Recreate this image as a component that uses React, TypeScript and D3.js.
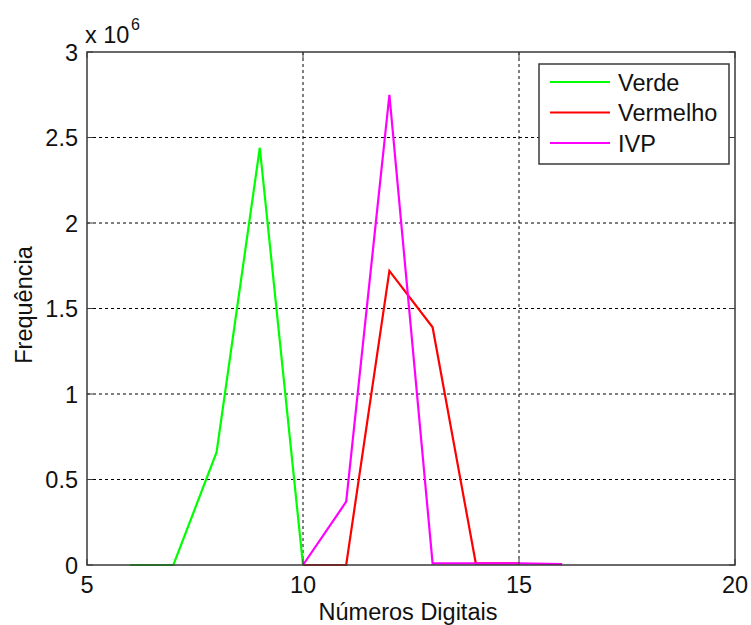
import React from "react";
import * as d3 from "d3";

const xTicks = [5, 10, 15, 20];
const yTicks = [0, 0.5, 1, 1.5, 2, 2.5, 3];
const yTickLabels = ["0", "0.5", "1", "1.5", "2", "2.5", "3"];

const verdeX = [6, 7, 8, 9, 10];
const verdeY = [0, 0, 0.66e6, 2.44e6, 0];
const vermelhoX = [10, 11, 12, 13, 14, 15];
const vermelhoY = [0, 0, 1.72e6, 1.39e6, 0.01e6, 0.01e6];
const ivpX = [10, 11, 12, 13, 14, 15, 16];
const ivpY = [0, 0.37e6, 2.75e6, 0.01e6, 0.01e6, 0.01e6, 0.005e6];

const seriesNames = ["Verde", "Vermelho", "IVP"];
const seriesColors = ["#00ff00", "#ff0000", "#ff00ff"];

export default function App() {
  const W = 751, H = 625;
  const L = 87, R = 735, T = 52, B = 565;
  const x = d3.scaleLinear().domain([5, 20]).range([L, R]);
  const y = d3.scaleLinear().domain([0, 3e6]).range([B, T]);
  const line = d3.line<[number, number]>().x(d => x(d[0])).y(d => y(d[1]));
  const series = [
    verdeX.map((v, i) => [v, verdeY[i]] as [number, number]),
    vermelhoX.map((v, i) => [v, vermelhoY[i]] as [number, number]),
    ivpX.map((v, i) => [v, ivpY[i]] as [number, number]),
  ];
  const font = "'Liberation Sans', Arial, sans-serif";
  const fs = 23.5;
  const tl = 6;
  return (
    <svg width={W} height={H} style={{ position: "absolute", left: 0, top: 0, background: "#fff" }} fontFamily={font}>
      <rect x={0} y={0} width={W} height={H} fill="#fff" />
      {xTicks.slice(1, -1).map(t => (
        <line key={"gx" + t} x1={x(t)} x2={x(t)} y1={T} y2={B} stroke="#000" strokeWidth={1} strokeDasharray="3,3" />
      ))}
      {yTicks.slice(1, -1).map(t => (
        <line key={"gy" + t} x1={L} x2={R} y1={y(t * 1e6)} y2={y(t * 1e6)} stroke="#000" strokeWidth={1} strokeDasharray="3,3" />
      ))}
      {series.map((s, i) => (
        <path key={i} d={line(s) || ""} fill="none" stroke={seriesColors[i]} strokeWidth={2.2} />
      ))}
      <rect x={L} y={T} width={R - L} height={B - T} fill="none" stroke="#3a3a3a" strokeWidth={1.5} />
      {xTicks.map(t => (
        <g key={"tx" + t}>
          <line x1={x(t)} x2={x(t)} y1={B} y2={B - tl} stroke="#3a3a3a" />
          <line x1={x(t)} x2={x(t)} y1={T} y2={T + tl} stroke="#3a3a3a" />
          <text x={x(t)} y={593} fontSize={fs} textAnchor="middle" fill="#111">{t}</text>
        </g>
      ))}
      {yTicks.map((t, i) => (
        <g key={"ty" + t}>
          <line x1={L} x2={L + tl} y1={y(t * 1e6)} y2={y(t * 1e6)} stroke="#3a3a3a" />
          <line x1={R} x2={R - tl} y1={y(t * 1e6)} y2={y(t * 1e6)} stroke="#3a3a3a" />
          <text x={78} y={y(t * 1e6) + 8.5} fontSize={fs} textAnchor="end" fill="#111">{yTickLabels[i]}</text>
        </g>
      ))}
      <text x={85} y={43} fontSize={fs} fill="#111">x 10</text>
      <text x={131} y={30} fontSize={16} fill="#111">6</text>
      <text x={408} y={620} fontSize={fs} textAnchor="middle" fill="#111">Números Digitais</text>
      <text transform="translate(32,305) rotate(-90)" fontSize={fs} textAnchor="middle" fill="#111">Frequência</text>
      <rect x={539} y={64} width={190} height={100} fill="#fff" stroke="#3a3a3a" strokeWidth={1.5} />
      {seriesNames.map((n, i) => (
        <g key={n}>
          <line x1={550} x2={610} y1={82 + i * 30.5} y2={82 + i * 30.5} stroke={seriesColors[i]} strokeWidth={2.2} />
          <text x={618} y={82 + i * 30.5 + 8.5} fontSize={fs} fill="#111">{n}</text>
        </g>
      ))}
    </svg>
  );
}
